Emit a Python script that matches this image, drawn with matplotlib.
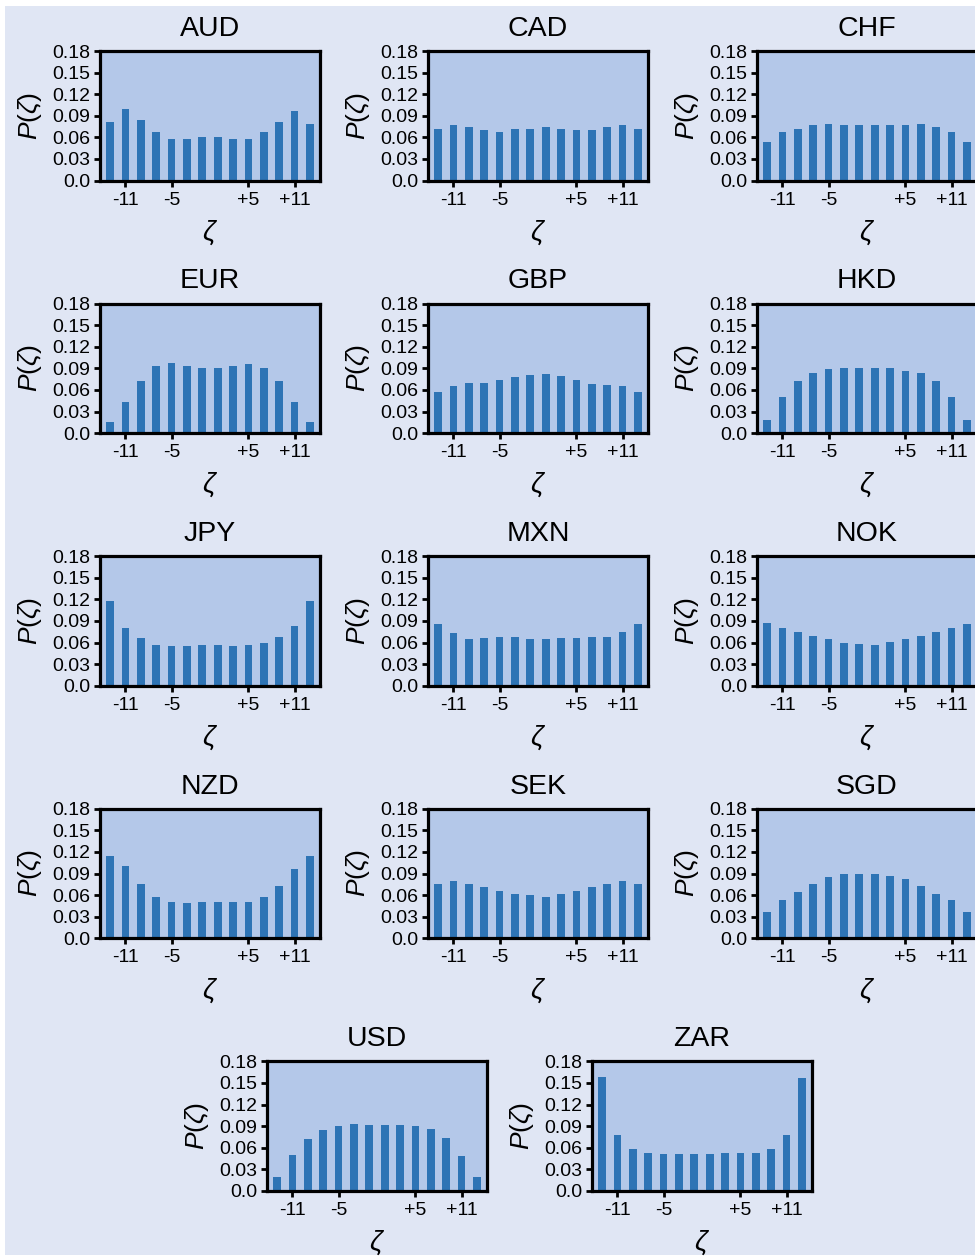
import numpy as np
import matplotlib
matplotlib.use('Agg')
import matplotlib.pyplot as plt
from matplotlib.patches import Rectangle

plt.rcParams['font.family'] = ['Liberation Sans', 'DejaVu Sans']
plt.rcParams['mathtext.fontset'] = 'custom'
plt.rcParams['mathtext.rm'] = 'Liberation Sans'
plt.rcParams['mathtext.it'] = 'Liberation Sans:italic'

# Signed streak lengths on the x axis
zeta = np.arange(-13, 14, 2)
xtick_pos = [-11, -5, 5, 11]
xtick_labels = ['-11', '-5', '+5', '+11']
ytick_pos = [0.0, 0.03, 0.06, 0.09, 0.12, 0.15, 0.18]
ytick_labels = ['0.0', '0.03', '0.06', '0.09', '0.12', '0.15', '0.18']

currencies = ['AUD', 'CAD', 'CHF', 'EUR', 'GBP', 'HKD', 'JPY',
              'MXN', 'NOK', 'NZD', 'SEK', 'SGD', 'USD', 'ZAR']

aud = [0.082, 0.099, 0.084, 0.067, 0.058, 0.058, 0.060, 0.060, 0.057, 0.058, 0.067, 0.082, 0.096, 0.079]
cad = [0.071, 0.077, 0.074, 0.070, 0.068, 0.071, 0.072, 0.074, 0.071, 0.070, 0.070, 0.074, 0.077, 0.071]
chf = [0.053, 0.068, 0.072, 0.077, 0.078, 0.077, 0.077, 0.077, 0.077, 0.077, 0.078, 0.074, 0.068, 0.054]
eur = [0.015, 0.043, 0.073, 0.093, 0.097, 0.093, 0.090, 0.090, 0.093, 0.096, 0.091, 0.072, 0.043, 0.015]
gbp = [0.057, 0.065, 0.070, 0.070, 0.074, 0.078, 0.081, 0.082, 0.079, 0.074, 0.068, 0.067, 0.065, 0.057]
hkd = [0.018, 0.050, 0.072, 0.083, 0.089, 0.090, 0.091, 0.090, 0.090, 0.087, 0.083, 0.072, 0.050, 0.018]
jpy = [0.118, 0.080, 0.066, 0.057, 0.055, 0.055, 0.057, 0.057, 0.055, 0.057, 0.059, 0.068, 0.083, 0.118]
mxn = [0.086, 0.073, 0.065, 0.066, 0.068, 0.068, 0.065, 0.065, 0.066, 0.066, 0.068, 0.068, 0.075, 0.086]
nok = [0.087, 0.080, 0.075, 0.069, 0.065, 0.060, 0.058, 0.057, 0.061, 0.065, 0.069, 0.075, 0.080, 0.086]
nzd = [0.115, 0.100, 0.075, 0.058, 0.051, 0.049, 0.051, 0.051, 0.051, 0.051, 0.058, 0.073, 0.097, 0.114]
sek = [0.076, 0.079, 0.075, 0.072, 0.066, 0.062, 0.060, 0.058, 0.062, 0.066, 0.072, 0.075, 0.079, 0.076]
sgd = [0.037, 0.053, 0.064, 0.075, 0.085, 0.089, 0.090, 0.090, 0.087, 0.082, 0.073, 0.062, 0.053, 0.037]
usd = [0.019, 0.050, 0.072, 0.085, 0.090, 0.093, 0.092, 0.092, 0.092, 0.090, 0.086, 0.074, 0.049, 0.019]
zar = [0.159, 0.078, 0.058, 0.053, 0.051, 0.051, 0.051, 0.051, 0.053, 0.053, 0.053, 0.058, 0.078, 0.157]

series = [aud, cad, chf, eur, gbp, hkd, jpy, mxn, nok, nzd, sek, sgd, usd, zar]

W, H = 975, 1258
fig = plt.figure(figsize=(W / 100, H / 100), dpi=100, facecolor='#e0e6f4')

# thin white margin along the top, left and bottom edges
for x0, y0, w, h in [(0, 1 - 6 / H, 1, 6 / H), (0, 0, 5 / W, 1), (0, 0, 1, 3 / H)]:
    fig.patches.append(Rectangle((x0, y0), w, h, transform=fig.transFigure,
                                 facecolor='white', edgecolor='none', zorder=-1))

ax_w, ax_h = 220, 129.5
row_tops = [51 + 252.6 * i for i in range(5)]
col_lefts = [100, 428, 757]
last_row_lefts = [267, 592]

positions = []
for r in range(4):
    for c in range(3):
        positions.append((col_lefts[c], row_tops[r]))
for c in range(2):
    positions.append((last_row_lefts[c], row_tops[4]))

for name, vals, (left, top) in zip(currencies, series, positions):
    ax = fig.add_axes([left / W, 1 - (top + ax_h) / H, ax_w / W, ax_h / H])
    ax.set_facecolor('#b4c8e9')
    ax.bar(zeta, vals, width=1.0, color='#2e74b5', zorder=2)
    ax.set_xlim(-14.3, 14.3)
    ax.set_ylim(0, 0.18)
    ax.set_xticks(xtick_pos)
    ax.set_xticklabels(xtick_labels)
    ax.set_yticks(ytick_pos)
    ax.set_yticklabels(ytick_labels)
    ax.tick_params(axis='both', labelsize=14, length=4, width=2, direction='out', pad=3)
    ax.tick_params(axis='x', pad=4)
    for sp in ax.spines.values():
        sp.set_linewidth(2.3)
        sp.set_color('black')
    ax.set_title(name, fontsize=20.5, pad=11)
    ax.set_xlabel(r'$\zeta$', fontsize=20, labelpad=7)
    ax.set_ylabel(r'$P(\zeta)$', fontsize=19, labelpad=6)

fig.savefig('out.png', dpi=100, facecolor=fig.get_facecolor())
